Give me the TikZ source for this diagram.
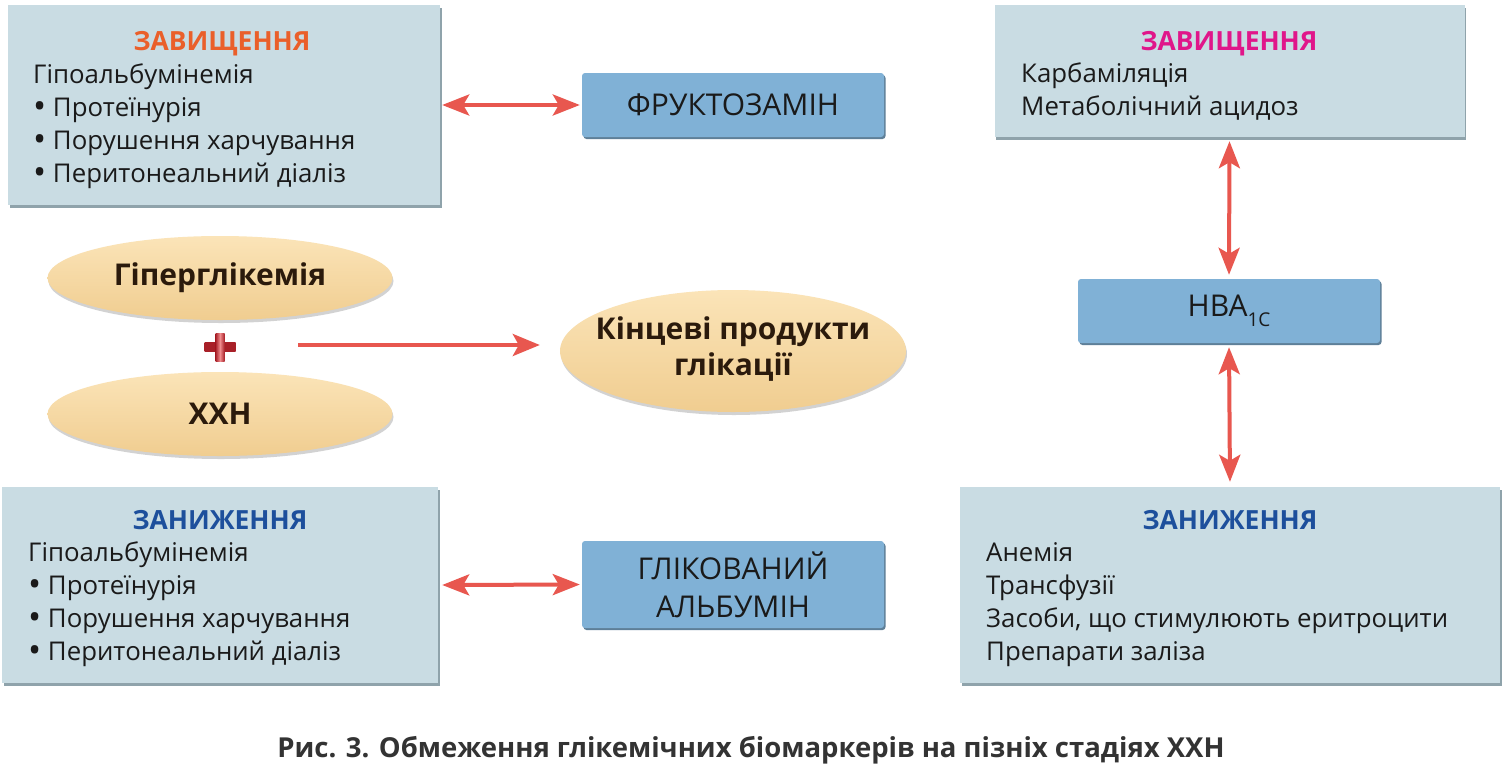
\documentclass[tikz,border=0pt]{standalone}
\usepackage{fontspec}
\usepackage{graphicx}
\setmainfont{Open Sans}
\usetikzlibrary{arrows.meta,shadows,shapes.geometric}
\definecolor{boxfill}{HTML}{C9DCE3}
\definecolor{boxshade}{HTML}{8FA3AB}
\definecolor{bluefill}{HTML}{80B1D6}
\definecolor{blueshade}{HTML}{5E7F98}
\definecolor{arrowred}{HTML}{E8574F}
\definecolor{orangeT}{HTML}{EA5F2A}
\definecolor{magentaT}{HTML}{E0168A}
\definecolor{blueT}{HTML}{1D4F9C}
\definecolor{textdark}{HTML}{1A1A1A}
\definecolor{ovaltext}{HTML}{2B1A0C}
\definecolor{ovaltop}{HTML}{FBE4B8}
\definecolor{ovalmid}{HTML}{F8DBA3}
\definecolor{ovalbot}{HTML}{F0CD90}
\definecolor{captext}{HTML}{333333}
\definecolor{plusedge}{HTML}{A82028}
\definecolor{plusmid}{HTML}{F08C8E}
\newcommand\bul{\raisebox{-0.1em}{\scalebox{1.35}{•}}}
\begin{document}
\begin{tikzpicture}[x=1pt,y=-1pt,
  greybox/.style={draw=none, fill=boxfill, inner sep=0pt,
    drop shadow={shadow xshift=1.5pt, shadow yshift=-2.5pt, fill=boxshade, opacity=1}},
  bluebox/.style={draw=none, fill=bluefill, inner sep=0pt, rounded corners=3pt,
    minimum width=302pt, align=center, text=textdark,
    font=\fontsize{30}{38}\selectfont,
    drop shadow={shadow xshift=1.5pt, shadow yshift=-2pt, fill=blueshade, opacity=1}},
  oval/.style={ellipse, draw=none, inner sep=0pt, top color=ovaltop, middle color=ovalmid,
    bottom color=ovalbot, text=ovaltext, align=center,
    font=\fontsize{30}{36}\selectfont\bfseries,
    drop shadow={shadow xshift=1pt, shadow yshift=-3pt, fill=black!35, opacity=0.5}},
  ovaltxt/.style={inner sep=0pt, text=ovaltext, align=center,
    font=\fontsize{30}{36}\selectfont\bfseries},
  ttl/.style={inner sep=0pt, anchor=base, font=\fontsize{26.4}{28}\selectfont\bfseries},
  line/.style={inner sep=0pt, anchor=base west, text=textdark, font=\fontsize{25.8}{28}\selectfont},
  dbl/.style={arrowred, line width=4pt,
    {Stealth[length=27pt,width=21pt,inset=6pt]}-{Stealth[length=27pt,width=21pt,inset=6pt]}},
  sgl/.style={arrowred, line width=3.8pt, -{Stealth[length=27pt,width=22pt,inset=6pt]}}
]
\useasboundingbox[fill=white] (0,0) rectangle (1503,769);

% top-left box
\node[greybox, minimum width=432pt, minimum height=200pt] (tl) at (224,105) {};
\node[ttl, text=orangeT] (tlt) at (222,50) {ЗАВИЩЕННЯ};
\node[line] (tl1) at (33,83) {Гіпоальбумінемія};
\node[line] (tl2) at (33,116) {\bul\ Протеїнурія};
\node[line] (tl3) at (33,149) {\bul\ Порушення харчування};
\node[line] (tl4) at (33,182) {\bul\ Перитонеальний діаліз};

% fructosamine
\node[bluebox, minimum height=64pt] (fr) at (733,105) {ФРУКТОЗАМІН};

% bottom-left box
\node[greybox, minimum width=436pt, minimum height=196pt] (bl) at (220,585) {};
\node[ttl, text=blueT] (blt) at (220,529) {ЗАНИЖЕННЯ};
\node[line] (bl1) at (28,561) {Гіпоальбумінемія};
\node[line] (bl2) at (28,594) {\bul\ Протеїнурія};
\node[line] (bl3) at (28,627) {\bul\ Порушення харчування};
\node[line] (bl4) at (28,660) {\bul\ Перитонеальний діаліз};

% glycated albumin
\node[bluebox, minimum height=87pt] (ga) at (733,584.5) {ГЛІКОВАНИЙ\\АЛЬБУМІН};

% top-right box
\node[greybox, minimum width=470pt, minimum height=132pt] (tr) at (1229.5,71) {};
\node[ttl, text=magentaT] (trt) at (1229,50) {ЗАВИЩЕННЯ};
\node[line] (tr1) at (1021,82) {Карбаміляція};
\node[line] (tr2) at (1021,115) {Метаболічний ацидоз};

% HbA1c
\node[bluebox, minimum height=64pt] (hb) at (1229,311) {HBA\raisebox{-0.35em}{\fontsize{19}{20}\selectfont 1C}};

% bottom-right box
\node[greybox, minimum width=540pt, minimum height=196pt] (br) at (1230,585) {};
\node[ttl, text=blueT] (brt) at (1230,529) {ЗАНИЖЕННЯ};
\node[line] (br1) at (986,561) {Анемія};
\node[line] (br2) at (986,594) {Трансфузії};
\node[line] (br3) at (986,627) {Засоби, що стимулюють еритроцити};
\node[line] (br4) at (986,660) {Препарати заліза};

% ovals
\node[oval, minimum width=345pt, minimum height=84pt] (hg) at (220,278) {Гіперглікемія};
\node[oval, minimum width=345pt, minimum height=84pt] (ckd) at (220,414) {ХХН};
\node[oval, minimum width=346pt, minimum height=122pt] (age) at (733,351) {};
\node[ovaltxt] (aget) at (733,349) {Кінцеві продукти\\глікації};

% plus sign
\node[minimum size=30pt, inner sep=0pt] (plus) at (220,347) {};
\shade[top color=plusedge, middle color=plusmid, bottom color=plusedge]
  (plus.center) ++(-15.5,-4.5) rectangle ++(31,9);
\shade[left color=plusedge, right color=plusedge, middle color=plusmid]
  (plus.center) ++(-4.5,-14) rectangle ++(9,28);

% connectors
\coordinate (mstart) at (298,345);
\draw[sgl, shorten >=20pt] (mstart) -- (mstart -| age.west);
\draw[dbl, shorten <=2pt, shorten >=2pt] (tl.east) -- (fr.west);
\draw[dbl, shorten <=4pt, shorten >=2pt] (bl.east) -- (ga.west);
\draw[dbl, shorten <=4pt, shorten >=4pt] (tr.south) -- (hb.north);
\draw[dbl, shorten <=4pt, shorten >=5pt] (hb.south) -- (br.north);

% caption
\node[inner sep=0pt, anchor=base, text=captext, font=\fontsize{27.5}{30}\selectfont\bfseries] (cap)
  at (751,757) {Рис. 3. Обмеження глікемічних біомаркерів на пізніх стадіях ХХН};
\end{tikzpicture}
\end{document}
